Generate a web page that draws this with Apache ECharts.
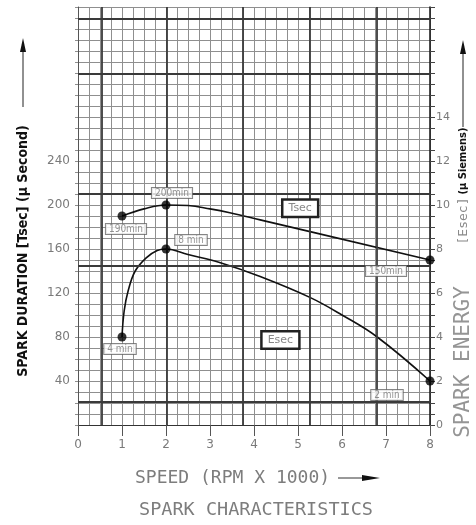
<!DOCTYPE html>
<html>
<head>
<meta charset="utf-8">
<script src="https://cdn.jsdelivr.net/npm/echarts@6/dist/echarts.min.js"></script>
<style>
html,body{margin:0;padding:0;background:#fff;}
#spark_chart{width:476px;height:525px;}
</style>
</head>
<body>
<div id="spark_chart"></div>
<script>
// speed in RPM x 1000
const speedTicks = [0, 1, 2, 3, 4, 5, 6, 7, 8];
const durationTicks = [40, 80, 120, 160, 200, 240];
const energyTicks = [0, 2, 4, 6, 8, 10, 12, 14];

// Tsec curve (µ second)
const tsecCurve = [[1, 190], [1.5, 196.5], [2, 200], [2.5, 199.5], [3, 196.5], [3.45, 193], [4.14, 186.5], [8, 150]];
const tsecPoints = [[1, 190], [2, 200], [8, 150]];
const tsecLabels = ['190min', '200min', '150min'];

// Esec curve (µ Siemens)
const esecCurve = [[1, 4], [1.05, 5.2], [1.14, 6.1], [1.3, 7.0], [1.55, 7.6], [1.8, 7.93], [2, 8], [2.5, 7.75], [3.2, 7.4], [4.14, 6.75], [5.27, 5.8], [6.0, 5.0], [6.8, 4], [8, 2]];
const esecPoints = [[1, 4], [2, 8], [8, 2]];
const esecLabels = ['4 min', '8 min', '2 min'];

// darker lines of the graph paper
const heavyX = [0.55, 2.02, 3.75, 5.27, 6.8];
const heavyY = [21, 145, 210, 319, 369];

const labelOffsets = {
    '190min': [4, 13], '200min': [6, -12], '150min': [-44, 11],
    '4 min': [-2, 12], '8 min': [25, -9], '2 min': [-43, 14]
};

const gridColor = '#8f8f8f';
const tickColor = '#7a7a7a';
const textGrey = '#7d7d7d';

function pointLabel(names) {
    return names.map(function (n) {
        return {
            show: true,
            position: 'inside',
            offset: labelOffsets[n],
            formatter: n,
            fontSize: 10,
            fontFamily: 'DejaVu Sans Condensed',
            color: '#777',
            backgroundColor: '#fff',
            borderColor: '#666',
            borderWidth: 1,
            padding: [0, 3]
        };
    });
}

function dots(points, names) {
    const lbl = pointLabel(names);
    return points.map(function (p, i) {
        return {value: p, label: lbl[i]};
    });
}

const boxLabel = {
    show: true,
    position: 'inside',
    fontSize: 11,
    fontFamily: 'DejaVu Sans',
    color: '#888',
    backgroundColor: '#fff',
    borderColor: '#222',
    borderWidth: 2.5,
    padding: [2, 5]
};

const chart = echarts.init(document.getElementById('spark_chart'));

const option = {
    animation: false,
    backgroundColor: '#fff',
    grid: {left: 78, right: 46, top: 7, bottom: 100},
    xAxis: {
        type: 'value',
        min: speedTicks[0],
        max: speedTicks[speedTicks.length - 1],
        interval: 1,
        axisLine: {show: true, lineStyle: {color: '#333', width: 1}},
        axisTick: {show: true, length: 11, lineStyle: {color: '#555'}},
        axisLabel: {margin: 14, fontSize: 12, color: tickColor, fontFamily: 'DejaVu Sans'},
        splitLine: {show: true, lineStyle: {color: gridColor, width: 1}},
        minorTick: {show: false, splitNumber: 4},
        minorSplitLine: {show: true, lineStyle: {color: gridColor, width: 1}}
    },
    yAxis: [
        {
            type: 'value',
            min: 0,
            max: 380,
            interval: 20,
            axisLine: {show: true, lineStyle: {color: '#555', width: 1}},
            axisTick: {show: true, length: 3, lineStyle: {color: gridColor}},
            minorTick: {show: true, splitNumber: 2, length: 3, lineStyle: {color: gridColor}},
            axisLabel: {
                margin: 8, fontSize: 12, color: tickColor, fontFamily: 'DejaVu Sans',
                formatter: function (v) { return durationTicks.indexOf(v) >= 0 ? v : ''; }
            },
            splitLine: {show: true, lineStyle: {color: gridColor, width: 1}},
            minorSplitLine: {show: true, lineStyle: {color: gridColor, width: 1}}
        },
        {
            type: 'value',
            position: 'right',
            min: 0,
            max: 19,
            interval: 1,
            axisLine: {show: true, lineStyle: {color: '#111', width: 1.5}},
            axisTick: {show: true, length: 5, lineStyle: {color: '#444'}},
            minorTick: {show: true, splitNumber: 2, length: 5, lineStyle: {color: '#444'}},
            axisLabel: {
                margin: 6, fontSize: 11, color: tickColor, fontFamily: 'DejaVu Sans',
                formatter: function (v) { return energyTicks.indexOf(v) >= 0 ? v : ''; }
            },
            splitLine: {show: false}
        }
    ],
    series: [
        {
            name: 'Tsec',
            type: 'line',
            yAxisIndex: 0,
            smooth: 0.4,
            symbol: 'none',
            lineStyle: {color: '#111', width: 1.6},
            data: tsecCurve,
            markLine: {
                silent: true,
                symbol: 'none',
                label: {show: false},
                lineStyle: {color: '#3a3a3a', width: 1.8, type: 'solid'},
                data: heavyX.map(function (x) { return {xAxis: x}; })
                    .concat(heavyY.map(function (y) { return {yAxis: y}; }))
            },
            markPoint: {
                symbol: 'circle',
                symbolSize: 1,
                itemStyle: {color: 'rgba(0,0,0,0)'},
                label: Object.assign({formatter: 'Tsec'}, boxLabel),
                data: [{coord: [5.05, 197]}]
            },
            z: 3
        },
        {
            name: 'Esec',
            type: 'line',
            yAxisIndex: 1,
            smooth: 0.4,
            symbol: 'none',
            lineStyle: {color: '#111', width: 1.6},
            data: esecCurve,
            markPoint: {
                symbol: 'circle',
                symbolSize: 1,
                itemStyle: {color: 'rgba(0,0,0,0)'},
                label: Object.assign({formatter: 'Esec'}, boxLabel),
                data: [{coord: [4.6, 3.86]}]
            },
            z: 3
        },
        {
            type: 'scatter',
            yAxisIndex: 0,
            symbolSize: 9,
            itemStyle: {color: '#000'},
            data: dots(tsecPoints, tsecLabels),
            z: 5
        },
        {
            type: 'scatter',
            yAxisIndex: 1,
            symbolSize: 9,
            itemStyle: {color: '#000'},
            data: dots(esecPoints, esecLabels),
            z: 5
        }
    ],
    graphic: [
        // left axis title + arrow
        {
            type: 'text', x: 23, y: 251, rotation: Math.PI / 2,
            style: {
                text: 'SPARK DURATION [Tsec] (\u03bc Second)',
                fontSize: 14, fontWeight: 'bold', fontFamily: 'DejaVu Sans Condensed',
                fill: '#111', align: 'center', verticalAlign: 'middle'
            }
        },
        {type: 'line', shape: {x1: 23, y1: 107, x2: 23, y2: 50}, style: {stroke: '#222', lineWidth: 1}},
        {type: 'polygon', shape: {points: [[20, 52], [26, 52], [23, 38]]}, style: {fill: '#111'}},
        // right axis title (three parts) + arrow
        {
            type: 'text', x: 464, y: 362, rotation: Math.PI / 2,
            style: {
                text: 'SPARK ENERGY',
                fontSize: 21, fontFamily: 'DejaVu Sans Mono', fill: '#959595',
                align: 'center', verticalAlign: 'middle'
            }
        },
        {
            type: 'text', x: 464, y: 221, rotation: Math.PI / 2,
            style: {
                text: '[Esec]',
                fontSize: 13, fontFamily: 'DejaVu Sans Mono', fill: '#8a8a8a',
                align: 'center', verticalAlign: 'middle'
            }
        },
        {
            type: 'text', x: 463, y: 161, rotation: Math.PI / 2,
            style: {
                text: '(\u03bc Siemens)',
                fontSize: 11, fontFamily: 'DejaVu Sans Condensed', fontWeight: 'bold', fill: '#111',
                align: 'center', verticalAlign: 'middle'
            }
        },
        {type: 'line', shape: {x1: 463, y1: 127, x2: 463, y2: 52}, style: {stroke: '#222', lineWidth: 1}},
        {type: 'polygon', shape: {points: [[460, 54], [466, 54], [463, 40]]}, style: {fill: '#111'}},
        // x axis title + arrow
        {
            type: 'text', x: 135, y: 478,
            style: {
                text: 'SPEED (RPM X 1000)',
                fontSize: 18, fontFamily: 'DejaVu Sans Mono', fill: textGrey,
                align: 'left', verticalAlign: 'middle'
            }
        },
        {type: 'line', shape: {x1: 338, y1: 478, x2: 368, y2: 478}, style: {stroke: '#333', lineWidth: 1}},
        {type: 'polygon', shape: {points: [[362, 475], [362, 481], [380, 478]]}, style: {fill: '#111'}},
        // chart title
        {
            type: 'text', x: 256, y: 510,
            style: {
                text: 'SPARK CHARACTERISTICS',
                fontSize: 18.5, fontFamily: 'DejaVu Sans Mono', fill: textGrey,
                align: 'center', verticalAlign: 'middle'
            }
        }
    ]
};

chart.setOption(option);

window.addEventListener('resize', function () {
    chart.resize();
});
</script>
</body>
</html>
